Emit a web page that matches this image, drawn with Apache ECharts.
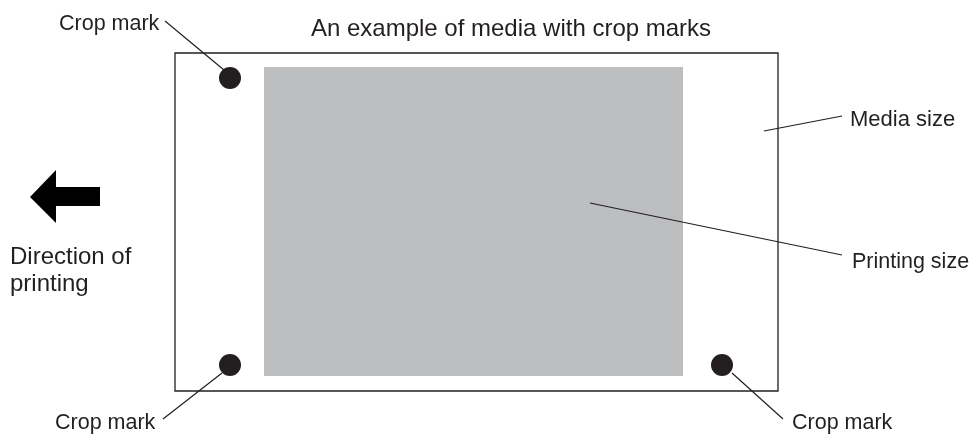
<!DOCTYPE html>
<html>
<head>
<meta charset="utf-8">
<script src="https://cdn.jsdelivr.net/npm/echarts@6/dist/echarts.min.js"></script>
<style>
  html, body { margin: 0; padding: 0; background: #fff; }
  #chart { width: 973px; height: 435px; }
</style>
</head>
<body>
<div id="chart"></div>
<script>
// diagram units = pixels of the 973x435 picture, y grows downwards
const mediaRect = [175, 53, 778, 391]   // x0, y0, x1, y1
const printRect = [264, 67, 683, 376]
const cropMarks = [[230, 78], [230, 365], [722, 365]]
const leaderLines = [
  [[165, 21], [224, 70]],
  [[163, 419], [222, 373]],
  [[732, 373], [783, 419]],
  [[764, 131], [842, 116]],
  [[590, 203], [842, 255]]
]
const arrowPoints = [[30, 197], [56, 170], [56, 187], [100, 187], [100, 206], [56, 206], [56, 223]]
const labelTexts = ['An example of media with crop marks', 'Crop mark', 'Crop mark', 'Crop mark', 'Media size', 'Printing size', 'Direction of\nprinting']
const labelPos = [[511, 29], [59, 24], [55, 423], [792, 423], [850, 120], [852, 262], [10, 271]]
const labelAlign = ['center', 'left', 'left', 'left', 'left', 'left', 'left']
const labelSize = [24, 21.5, 21.5, 21.5, 22, 21.5, 24]

const ink = '#231f20'

const chart = echarts.init(document.getElementById('chart'))
chart.setOption({
  animation: false,
  grid: { left: 0, right: 0, top: 0, bottom: 0 },
  xAxis: { type: 'value', min: 0, max: 973, show: false },
  yAxis: { type: 'value', min: 0, max: 435, inverse: true, show: false },
  series: [
    {
      type: 'custom',
      data: [printRect, mediaRect],
      renderItem(params, api) {
        const p0 = api.coord([api.value(0), api.value(1)])
        const p1 = api.coord([api.value(2), api.value(3)])
        const isMedia = params.dataIndex === 1
        return {
          type: 'rect',
          shape: { x: p0[0], y: p0[1], width: p1[0] - p0[0], height: p1[1] - p0[1] },
          style: isMedia ? { fill: 'none', stroke: ink, lineWidth: 1.3 } : { fill: '#bcbec0' }
        }
      }
    },
    {
      type: 'scatter',
      data: cropMarks,
      symbolSize: 22,
      itemStyle: { color: ink, opacity: 1 }
    },
    {
      type: 'lines',
      coordinateSystem: 'cartesian2d',
      data: leaderLines.map(c => ({ coords: c })),
      lineStyle: { color: ink, width: 1.2, opacity: 1 }
    },
    {
      type: 'custom',
      data: [0],
      renderItem(params, api) {
        return {
          type: 'polygon',
          shape: { points: arrowPoints.map(p => api.coord(p)) },
          style: { fill: '#000' }
        }
      }
    },
    {
      type: 'custom',
      data: labelPos,
      renderItem(params, api) {
        const i = params.dataIndex
        const p = api.coord([api.value(0), api.value(1)])
        return {
          type: 'text',
          x: p[0],
          y: p[1],
          style: {
            text: labelTexts[i],
            font: labelSize[i] + 'px "Liberation Sans", Arial, sans-serif',
            fill: ink,
            align: labelAlign[i],
            verticalAlign: 'middle',
            lineHeight: 27
          }
        }
      }
    }
  ]
})
</script>
</body>
</html>
